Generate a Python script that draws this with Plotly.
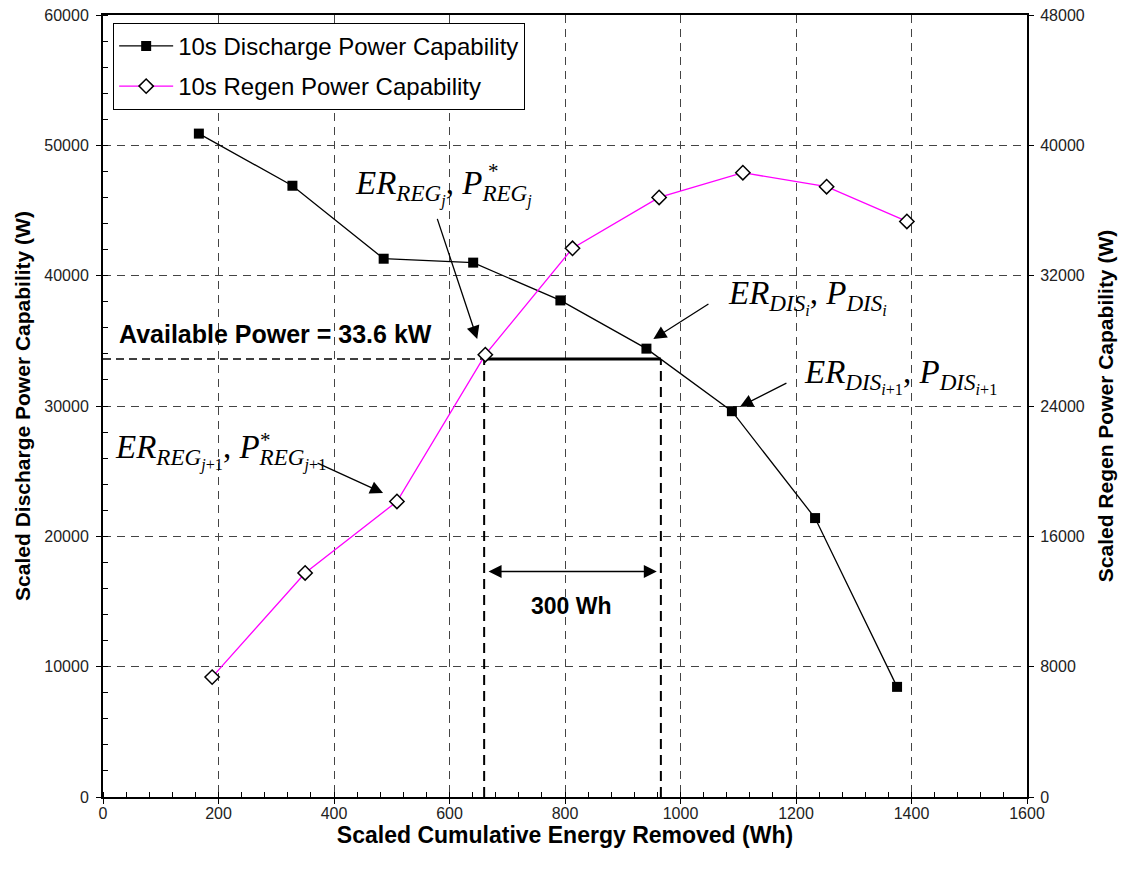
import plotly.graph_objects as go

# ---------------- data ----------------
dis_energy = [166, 328, 486, 641, 792, 941, 1089, 1233, 1375]
dis_power = [50900, 46900, 41300, 41000, 38100, 34400, 29600, 21400, 8450]

regen_energy = [189, 350, 509, 662, 813, 963, 1108, 1253, 1392]
regen_power = [7360, 13750, 18140, 27150, 33680, 36800, 38320, 37460, 35330]

available_power = 33600      # W (left scale)
window_start = 660           # Wh
window_end = 966             # Wh
window_label = "300 Wh"

x_ticks = list(range(0, 1601, 200))
y_left_ticks = list(range(0, 60001, 10000))
y_right_ticks = list(range(0, 48001, 8000))

SANS = "Arial, Liberation Sans, sans-serif"
AX_FONT = dict(family=SANS, size=16, color="#222")
MATH_FONT = dict(family="Liberation Serif, Times New Roman, serif", size=33, color="black")

fig = go.Figure()

# helper lines for the available power window
fig.add_trace(go.Scatter(x=[0, window_start], y=[available_power, available_power], mode="lines",
                         line=dict(color="black", width=1.5, dash="8px,5px"), showlegend=False, hoverinfo="skip"))
fig.add_trace(go.Scatter(x=[window_start, window_end], y=[available_power, available_power], mode="lines",
                         line=dict(color="black", width=3), showlegend=False, hoverinfo="skip"))
for xv in (window_start, window_end):
    fig.add_trace(go.Scatter(x=[xv, xv], y=[0, available_power], mode="lines",
                             line=dict(color="black", width=2, dash="10px,6px"), showlegend=False, hoverinfo="skip"))

fig.add_trace(go.Scatter(
    x=dis_energy, y=dis_power, mode="lines+markers", name="10s Discharge Power Capability",
    line=dict(color="black", width=1.3), legendgroup="a",
    marker=dict(symbol="square", size=10, color="black")))

fig.add_trace(go.Scatter(
    x=regen_energy, y=regen_power, mode="lines+markers", name="10s Regen Power Capability",
    yaxis="y2", legendgroup="b",
    line=dict(color="#ff00ff", width=1.3),
    marker=dict(symbol="diamond", size=11, color="white", line=dict(color="black", width=1.5))))

ann = []

def label(x, y, text, size=33):
    ann.append(dict(x=x, y=y, xref="x", yref="y", text=text, showarrow=False,
                    xanchor="left", yanchor="middle", font=dict(MATH_FONT, size=size)))

def arrow(x_tail, y_tail, x_head, y_head, both=False):
    ann.append(dict(x=x_head, y=y_head, ax=x_tail, ay=y_tail, xref="x", yref="y", axref="x", ayref="y",
                    text="", showarrow=True, arrowhead=2, arrowsize=2, arrowwidth=1.3,
                    arrowcolor="black", arrowside="end+start" if both else "end"))

label(433, 46750, "<i>ER</i><sub><i>REG</i><sub><i>j</i></sub></sub>, <i>P</i><sub><i>REG</i><sub><i>j</i></sub></sub>")
label(1079, 38400, "<i>ER</i><sub><i>DIS</i><sub><i>i</i></sub></sub>, <i>P</i><sub><i>DIS</i><sub><i>i</i></sub></sub>")
label(1211, 32340, "<i>ER</i><sub><i>DIS</i><sub><i>i</i>+1</sub></sub>, <i>P</i><sub><i>DIS</i><sub><i>i</i>+1</sub></sub>")
label(18, 26510, "<i>ER</i><sub><i>REG</i><sub><i>j</i>+1</sub></sub>, <i>P</i><sub><i>REG</i><sub><i>j</i>+1</sub></sub>")
# asterisks of P* sit above the subscripts
label(664, 48000, "*", size=21)
label(268, 27400, "*", size=21)

arrow(578, 44470, 648, 35140)
arrow(1051, 37900, 953, 35140)
arrow(1186, 31810, 1103, 29950)
arrow(369, 25670, 485, 23320)
arrow(665, 17300, 959, 17300, both=True)

ann.append(dict(x=25, y=35550, xref="x", yref="y", text="<b>Available Power = 33.6 kW</b>",
                showarrow=False, xanchor="left", yanchor="middle",
                font=dict(family=SANS, size=25, color="black")))
ann.append(dict(x=812, y=14675, xref="x", yref="y", text="<b>" + window_label + "</b>",
                showarrow=False, xanchor="center", yanchor="middle",
                font=dict(family=SANS, size=23, color="black")))

grid = dict(showgrid=True, gridcolor="#444", gridwidth=1, griddash="8px,6px")

fig.update_layout(
    width=1125, height=872,
    margin=dict(l=103, r=98, t=15, b=75),
    paper_bgcolor="white", plot_bgcolor="white",
    font=dict(family=SANS, color="black"),
    annotations=ann,
    legend=dict(x=0.011, y=0.99, xanchor="left", yanchor="top", bgcolor="white",
                bordercolor="black", borderwidth=1, tracegroupgap=6, itemwidth=54,
                font=dict(family=SANS, size=24, color="black")),
    xaxis=dict(range=[0, 1600], tickvals=x_ticks, ticktext=[str(v) for v in x_ticks],
               ticks="outside", ticklen=5, tickcolor="black", automargin=False, ticklabelstandoff=-4,
               ticklabeloverflow="allow",
               showline=True, linecolor="black", linewidth=2, mirror=True, zeroline=False,
               tickfont=AX_FONT, **grid,
               minor=dict(dtick=40, ticks="inside", ticklen=5, tickcolor="black", showgrid=False),
               title=dict(text="<b>Scaled Cumulative Energy Removed (Wh)</b>",
                          font=dict(family=SANS, size=23, color="black"), standoff=0)),
    yaxis=dict(range=[0, 60000], tickvals=y_left_ticks, ticktext=[str(v) for v in y_left_ticks],
               ticks="outside", ticklen=5, tickcolor="black", automargin=False, ticklabelstandoff=4,
               ticklabeloverflow="allow",
               showline=True, linecolor="black", linewidth=2, mirror=True, zeroline=False,
               tickfont=AX_FONT, **grid,
               minor=dict(dtick=2000, ticks="inside", ticklen=5, tickcolor="black", showgrid=False),
               title=dict(text="<b>Scaled Discharge Power Capability (W)</b>",
                          font=dict(family=SANS, size=21, color="black"), standoff=8)),
    yaxis2=dict(range=[0, 48000], tickvals=y_right_ticks, ticktext=[str(v) for v in y_right_ticks],
                overlaying="y", side="right", ticks="outside", automargin=False, ticklabelstandoff=3,
                ticklabeloverflow="allow",
                ticklen=5, tickcolor="black", showline=True, linecolor="black", linewidth=2,
                showgrid=False, zeroline=False, tickfont=AX_FONT,
                title=dict(text="<b>Scaled Regen Power Capability (W)</b>",
                           font=dict(family=SANS, size=21, color="black"), standoff=15)),
)

# remove the default 8px page margin so the 1125x872 figure fills the window exactly
fig.write_html("out.html", config={"displayModeBar": False},
               post_script="document.body.style.margin='0';")
